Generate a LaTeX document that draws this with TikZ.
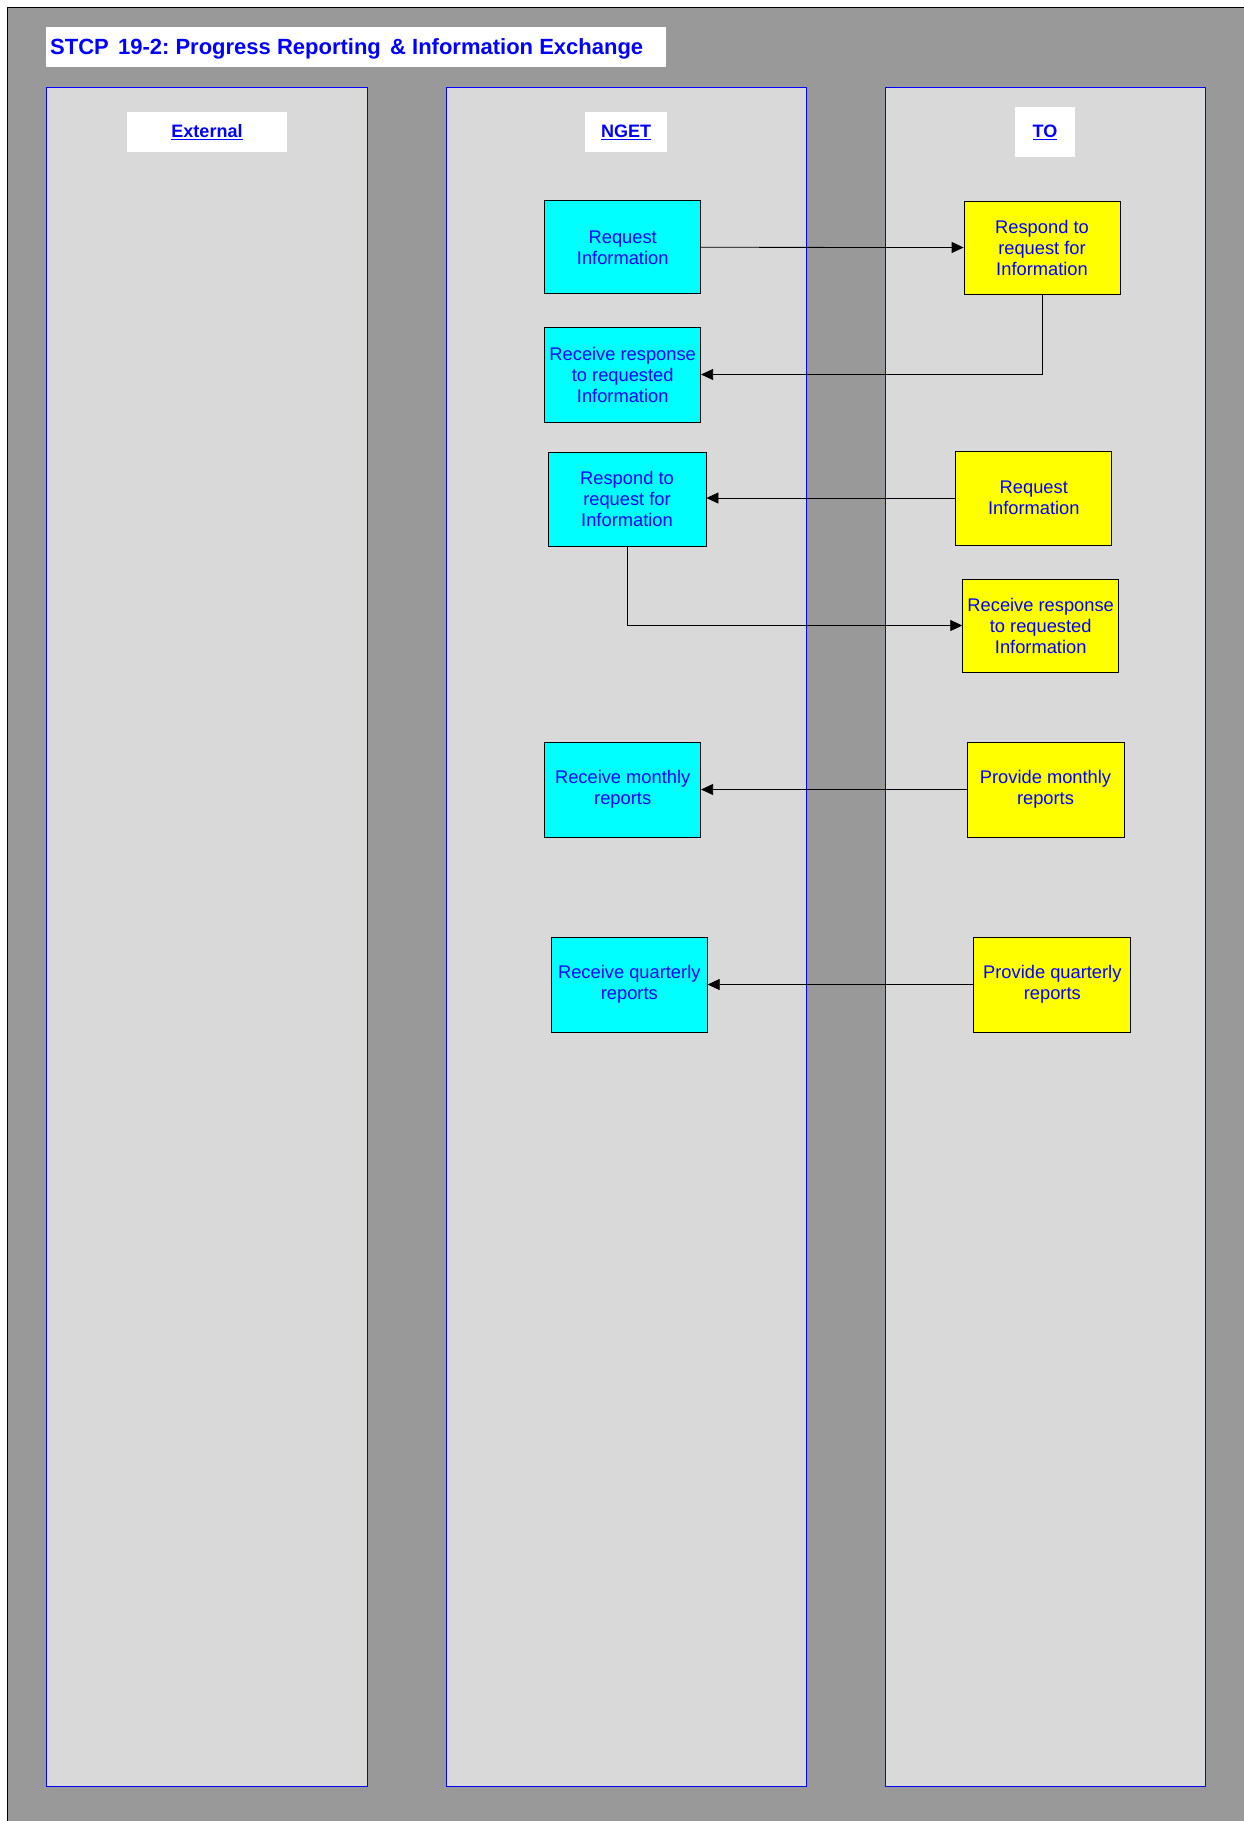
\documentclass[tikz,border=0pt]{standalone}
\usepackage{fontspec}
\setmainfont{Liberation Sans}
\usetikzlibrary{arrows.meta}
\definecolor{bggray}{RGB}{153,153,153}
\definecolor{lanegray}{RGB}{217,217,217}
\definecolor{txtblue}{RGB}{0,0,255}
\definecolor{cyanbox}{RGB}{0,255,255}
\definecolor{yellowbox}{RGB}{255,255,0}
\frenchspacing
\begin{document}
\begin{tikzpicture}[x=1pt,y=-1pt,
  lanerect/.style={draw=txtblue, fill=lanegray, line width=1pt},
  procbox/.style={draw=black, line width=0.8pt, minimum width=156pt, minimum height=94pt, inner sep=0pt, align=center, text=txtblue, font=\fontsize{18.3}{21}\selectfont},
  nbox/.style={procbox, fill=cyanbox},
  tbox/.style={procbox, fill=yellowbox},
  lanelabel/.style={fill=white, text=txtblue, font=\fontsize{18}{21}\selectfont\bfseries, inner sep=0pt, minimum height=40pt},
  flow/.style={draw=black, line width=0.8pt, -{Triangle[length=12pt,width=11pt]}}
]
\useasboundingbox (0,0) rectangle (1244,1821);
% background
\fill[white] (0,0) rectangle (1244,1821);
\fill[bggray] (7,7) rectangle (1244,1821);
\draw[black, line width=0.8pt] (7,1821) -- (7,7) -- (1244,7);
% title
\fill[white] (46,27) rectangle (666,67);
\node[anchor=west, inner sep=0pt, text=txtblue, font=\fontsize{22}{24}\selectfont\bfseries] (title) at (50,49) {STCP\hspace{0.42em}19-2: Progress Reporting\hspace{0.42em}\& Information Exchange};
% lanes
\draw[lanerect] (46,87) rectangle (367,1786);
\draw[lanerect] (446,87) rectangle (806,1786);
\draw[lanerect] (885,87) rectangle (1205,1786);
% lane labels
\node[lanelabel, minimum width=160pt] (lext) at (207,132) {\underline{External}};
\node[lanelabel, minimum width=82pt] (lnget) at (626,132) {\underline{NGET}};
\node[lanelabel, minimum width=60pt, minimum height=50pt] (lto) at (1045,132) {\underline{TO}};
% NGET boxes
\node[nbox, minimum height=93pt] (nreq) at (622.7,247.3) {Request\\Information};
\node[nbox, minimum height=95pt] (nrecv) at (622.7,374.5) {Receive response\\to requested\\Information};
\node[nbox, minimum width=158pt] (nresp) at (627,499) {Respond to\\request for\\Information};
\node[nbox, minimum height=95pt] (nmon) at (622.7,789.5) {Receive monthly\\reports};
\node[nbox, minimum height=95pt] (nqtr) at (629.3,984.5) {Receive quarterly\\reports};
% TO boxes
\node[tbox, minimum height=93pt] (tresp) at (1042,247.5) {Respond to\\request for\\Information};
\node[tbox] (treq) at (1033.8,498) {Request\\Information};
\node[tbox, minimum height=93pt] (trecv) at (1040.7,625.5) {Receive response\\to requested\\Information};
\node[tbox, minimum width=157pt, minimum height=95pt] (tmon) at (1045.5,789.5) {Provide monthly\\reports};
\node[tbox, minimum width=157pt, minimum height=95pt] (tqtr) at (1052.3,984.5) {Provide quarterly\\reports};
% connectors
\draw[flow] (nreq.east) -- (tresp.west);
\draw[flow] (tresp.south) |- (nrecv.east);
\draw[flow] (treq.west) -- (treq.west -| nresp.east);
\draw[flow] (nresp.south) |- (trecv.west);
\draw[flow] (tmon.west) -- (nmon.east);
\draw[flow] (tqtr.west) -- (nqtr.east);
\end{tikzpicture}
\end{document}
